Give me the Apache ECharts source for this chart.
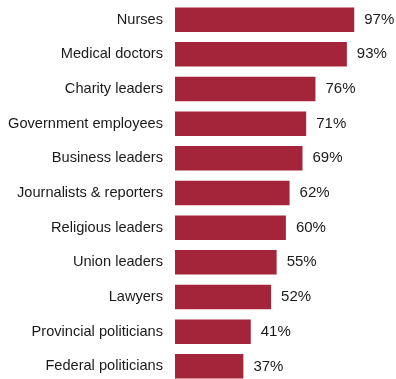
<!DOCTYPE html>
<html><head><meta charset="utf-8">
<script src="https://cdn.jsdelivr.net/npm/echarts@6/dist/echarts.min.js"></script>
<style>html,body{margin:0;padding:0;background:#fff;overflow:hidden}#c{width:396px;height:392px}</style>
</head><body><div id="c"></div>
<script>
const categories = ["Nurses","Medical doctors","Charity leaders","Government employees","Business leaders","Journalists & reporters","Religious leaders","Union leaders","Lawyers","Provincial politicians","Federal politicians"];
const values = [97,93,76,71,69,62,60,55,52,41,37];

const chart = echarts.init(document.getElementById('c'), null, {renderer:'canvas'});
chart.setOption({
  animation:false,
  grid:{left:175, top:2.3, width:184.8, height:381.4, containLabel:false},
  xAxis:{type:'value', min:0, max:100, show:false},
  yAxis:{type:'category', data:categories, inverse:true,
    axisLine:{show:false}, axisTick:{show:false},
    axisLabel:{margin:12, fontSize:14.6, color:'#1a1a1a', fontFamily:'Liberation Sans, Arial, sans-serif'}},
  series:[{type:'bar', data:values, barWidth:24.5,
    itemStyle:{color:'#A4243A'},
    label:{show:true, position:'right', distance:10, formatter:'{c}%', fontSize:15, color:'#1a1a1a', fontFamily:'Liberation Sans, Arial, sans-serif'}}]
});
</script></body></html>
